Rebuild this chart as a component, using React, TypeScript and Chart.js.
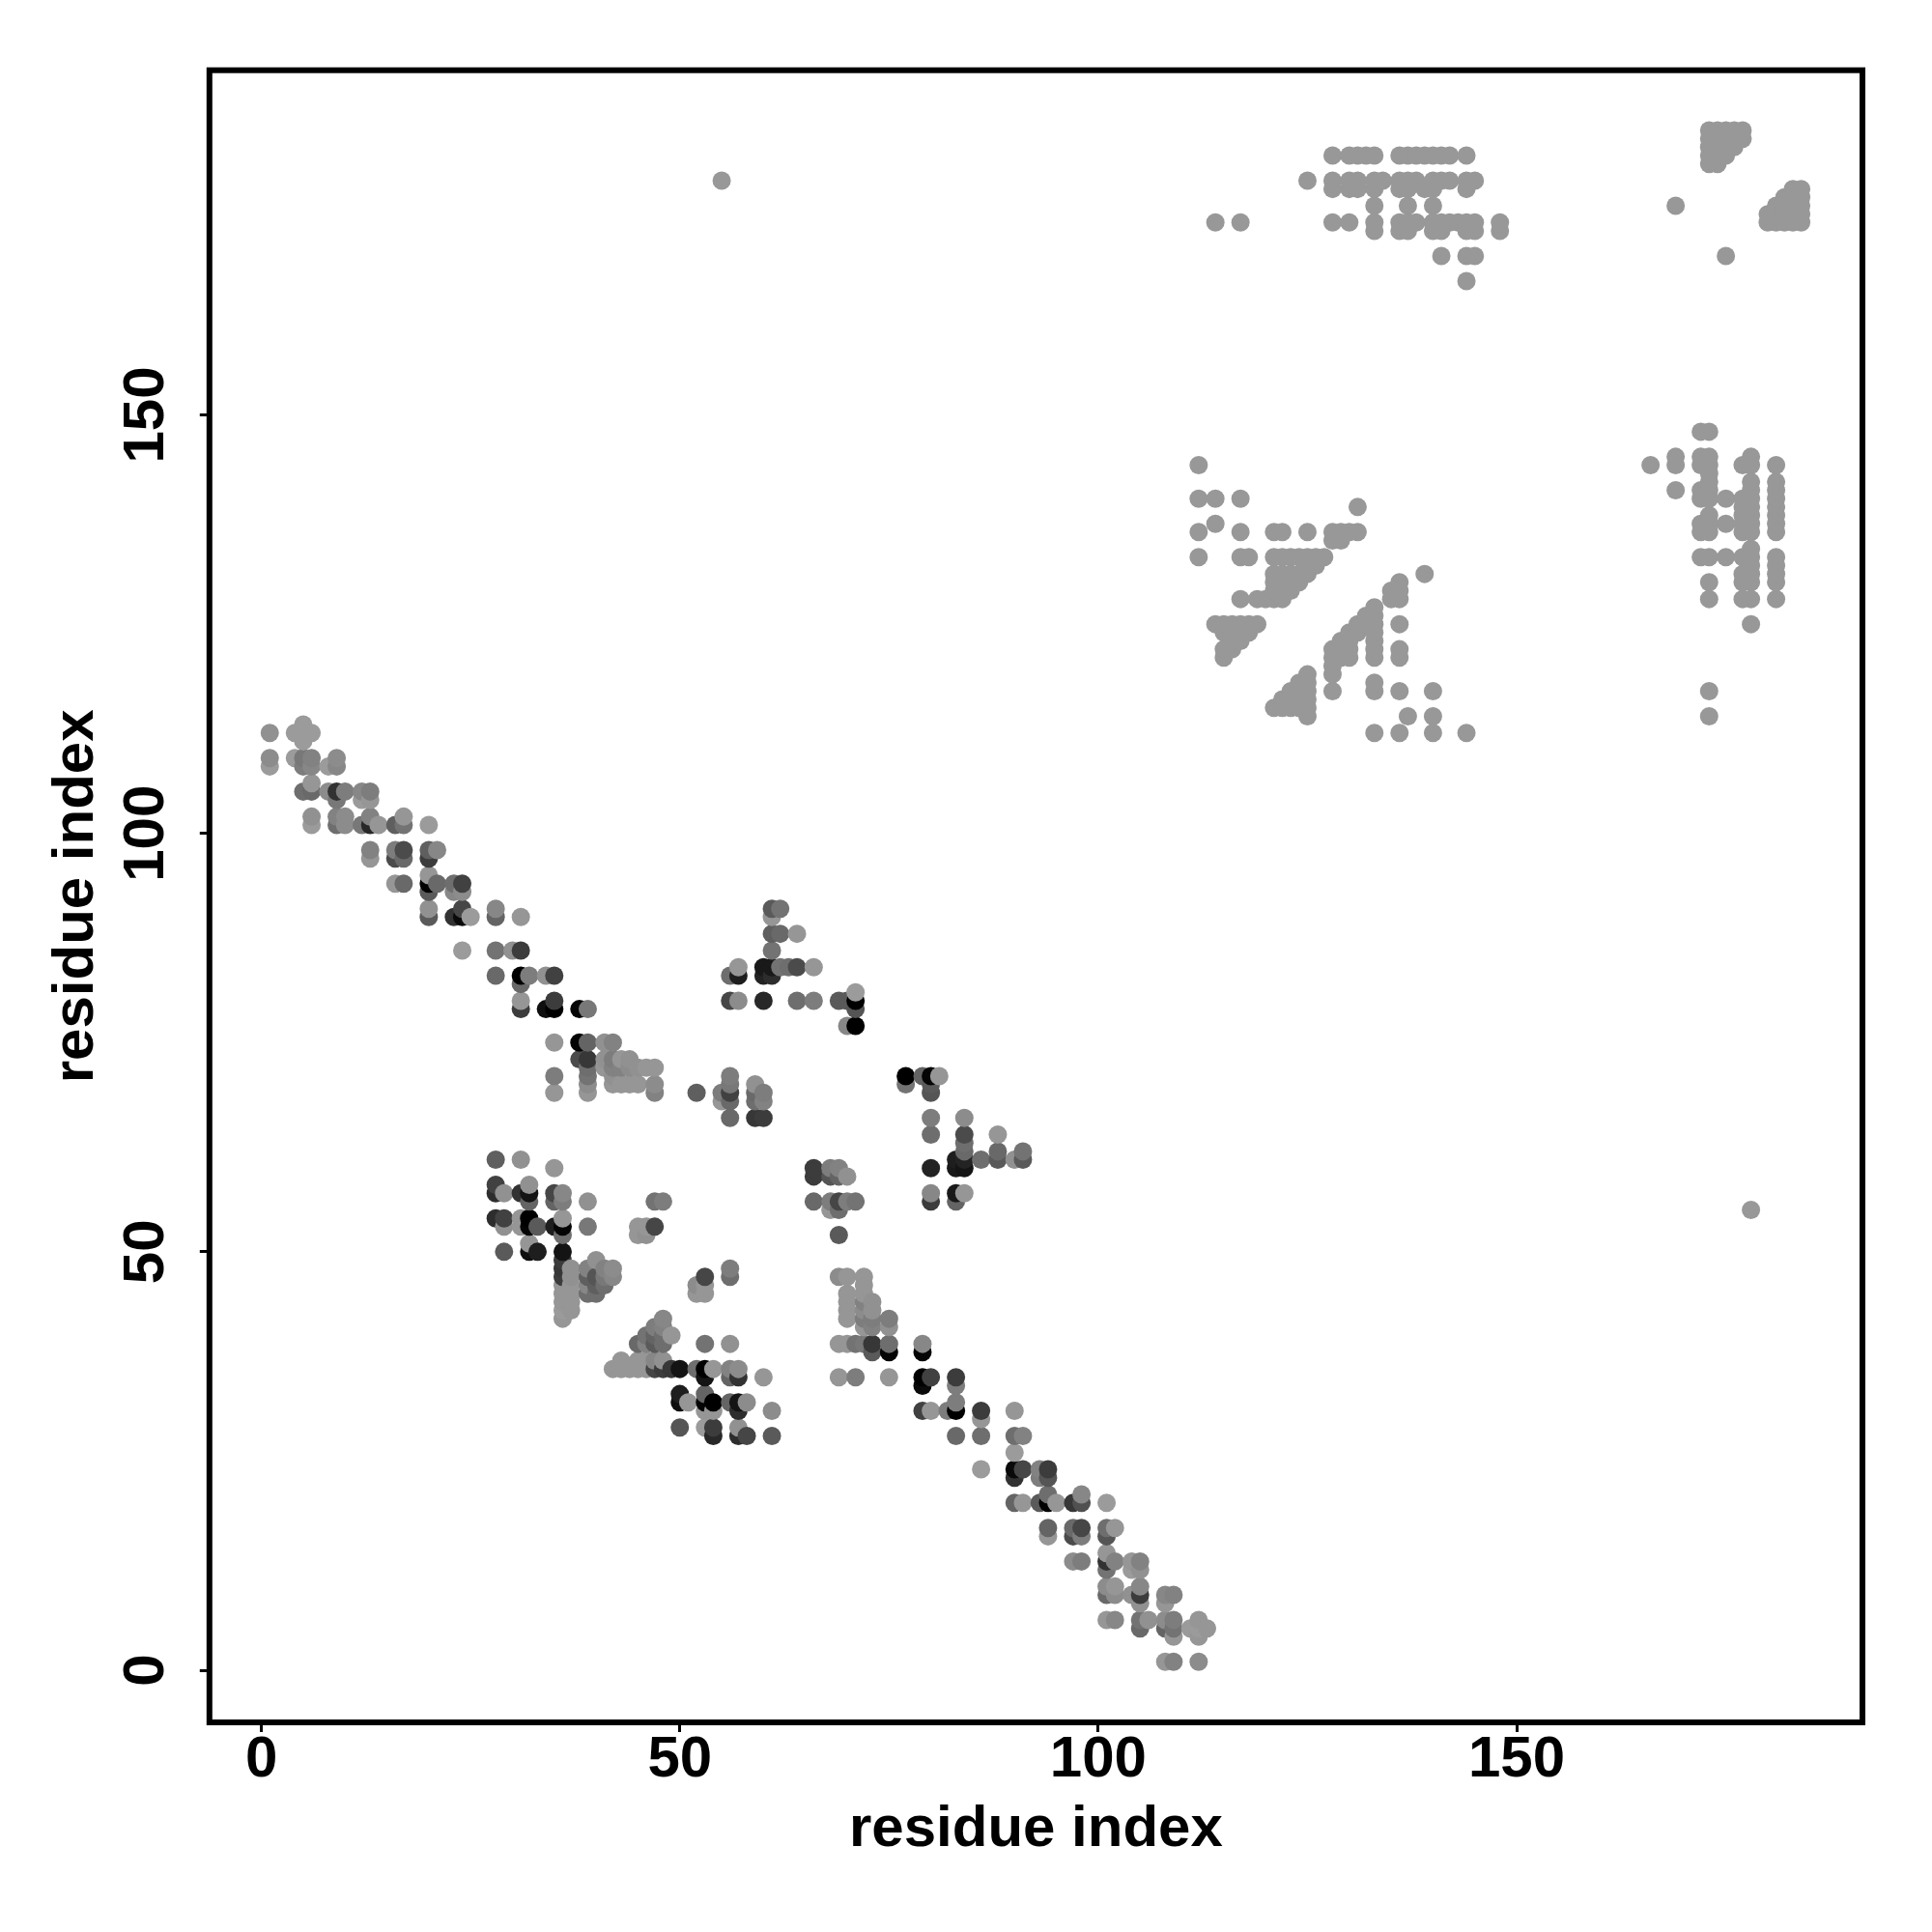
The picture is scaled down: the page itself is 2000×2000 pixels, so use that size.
import React, { useEffect, useRef } from "react";
import { Chart, registerables } from "chart.js";

Chart.register(...registerables);

// Each contact is [residue x, residue y, grey level]
const bandTop: number[][] = [
  [1,112,145],[4,112,155],[5,113,155],[5,112,155],[6,112,155],[5,111,155],
  [1,109,140],[4,109,155],[5,109,120],[6,109,130],[9,109,140],
  [1,108,155],[5,108,125],[6,108,135],[8,108,155],[9,108,135],
  [6,106,150],[5,105,110],[6,105,105],[8,105,140],[9,105,50],[10,105,125],[12,105,135],[13,105,125],
  [9,104,120],[12,104,155],[13,104,150],
  [6,102,145],[9,102,130],[10,102,140],[13,102,130],[17,102,150],
  [6,101,155],[9,101,110],[10,101,140],[12,101,120],[13,101,40],[14,101,150],[16,101,95],[17,101,115],[20,101,155],
  [13,98,130],[16,98,125],[17,98,75],[20,98,95],[21,98,135],
  [13,97,150],[16,97,75],[17,97,105],[20,97,60],
  [20,95,150],[16,94,150],[17,94,105],[20,94,0],[21,94,105],[23,94,110],[24,94,65],
  [20,93,90],[23,93,135],[24,93,140],
  [20,91,145],[24,91,70],[28,91,135],
  [20,90,90],[23,90,50],[24,90,10],[25,90,155],[28,90,100],[31,90,150],
  [24,86,155],[28,86,115],[30,86,145],[31,86,60],
  [28,83,105],[31,83,0],[32,83,125],[34,83,145],[35,83,65],[31,82,105],
  [31,80,150],[35,80,60],[31,79,60],[34,79,15],[35,79,0],[38,79,5],[39,79,120],
  [35,75,150],[38,75,5],[39,75,100],[41,75,145],[42,75,130],
  [38,73,75],[39,73,55],[41,73,145],[42,73,125],[43,73,150],[44,73,145],
  [39,72,110],[41,72,150],[42,72,130],[43,72,130],[44,72,140],[45,72,145],[46,72,150],[47,72,150],
  [35,71,125],[39,71,115],[42,71,145],
  [39,70,140],[42,70,150],[43,70,150],[44,70,150],[45,70,150],[47,70,140],
  [35,69,150],[39,69,150],[47,69,130],
];

const islandLeft: number[][] = [
  [28,61,95],[31,61,145],[35,60,150],[28,58,65],[32,58,145],
  [28,57,45],[29,57,145],[31,57,50],[32,57,20],[35,57,70],[36,57,135],
  [32,56,100],[35,56,100],[36,56,125],[39,56,145],[47,56,115],[48,56,125],
  [28,54,45],[29,54,65],[31,54,150],[32,54,0],[36,54,150],
  [29,53,145],[31,53,150],[32,53,5],[33,53,90],[35,53,30],[36,53,5],[39,53,120],[45,53,150],[46,53,150],[47,53,70],
  [36,52,110],[45,52,150],[46,52,145],[32,51,150],
  [29,50,90],[32,50,15],[33,50,30],[36,50,20],
  [36,49,60],[40,49,145],
  [36,48,55],[37,48,145],[39,48,130],[41,48,130],[42,48,140],[56,48,125],
  [36,47,60],[37,47,145],[39,47,95],[40,47,85],[41,47,120],[42,47,135],[53,47,70],[56,47,110],
  [36,46,150],[37,46,150],[39,46,135],[40,46,95],[41,46,110],[52,46,140],[53,46,150],
  [36,45,150],[37,45,150],[39,45,110],[40,45,110],[52,45,150],[53,45,150],
  [36,44,150],[37,44,150],[36,43,155],[37,43,150],[36,42,150],
];

const islandBottom: number[][] = [
  [48,42,135],[47,41,125],[48,41,130],[46,40,115],[47,40,100],[48,40,110],[49,40,150],
  [45,39,105],[46,39,130],[47,39,90],[48,39,110],[53,39,115],[56,39,145],
  [43,37,150],[45,37,150],[46,37,150],[47,37,135],[48,37,145],
  [42,36,150],[43,36,150],[44,36,150],[45,36,150],[46,36,150],[47,36,70],[48,36,60],[49,36,55],[50,36,20],
  [52,36,110],[53,36,0],[54,36,150],[56,36,130],[57,36,140],
  [53,35,20],[56,35,100],[57,35,50],[60,35,150],
  [50,33,30],[53,33,100],
  [50,32,15],[51,32,150],[53,32,5],[54,32,0],[56,32,100],[57,32,20],[58,32,140],
  [53,31,150],[54,31,150],[57,31,45],[61,31,140],
  [50,29,85],[53,29,155],[54,29,60],[57,29,145],
  [54,28,40],[57,28,45],[58,28,70],[61,28,90],
];

const islandCentre: number[][] = [
  [61,91,90],[62,91,115],[61,90,150],[61,88,95],[62,88,105],[64,88,150],[61,86,115],
  [57,84,150],[60,84,25],[61,84,25],[62,84,115],[63,84,110],[64,84,75],[66,84,150],
  [56,83,110],[57,83,30],[60,83,35],[61,83,45],
  [56,80,70],[57,80,140],[60,80,40],[64,80,110],[66,80,125],[69,80,90],[70,80,90],[71,80,0],[71,81,155],[71,79,85],
  [70,77,135],[71,77,0],
  [52,69,95],[56,71,125],[56,70,120],[56,69,65],[55,69,125],[55,68,150],[56,68,105],[56,66,105],
  [59,70,145],[59,69,105],[59,68,110],[60,69,125],[60,68,130],[59,66,55],[60,66,60],
  [77,71,0],[77,70,115],[79,71,100],[80,71,5],[81,71,150],[80,70,90],[80,69,85],
  [80,66,125],[84,66,140],[80,64,110],[84,64,75],[84,63,110],[84,62,105],
  [83,61,30],[84,61,35],[83,60,25],[84,60,20],[80,60,35],[86,61,110],
  [88,64,150],[88,62,105],[88,61,90],[90,61,145],[91,62,115],[91,61,90],
  [80,57,135],[80,56,60],[83,57,25],[84,57,150],[83,56,100],
  [66,60,60],[68,60,125],[69,60,130],[66,59,60],[68,59,85],[69,59,100],[70,59,145],
  [66,56,105],[68,56,125],[69,56,70],[70,56,125],[71,56,115],[68,55,150],[69,55,110],[69,52,90],
];

const islandRight: number[][] = [
  [69,47,140],[70,47,150],[72,47,150],[72,46,150],[70,45,150],[72,45,150],
  [70,44,150],[72,44,130],[73,44,145],[70,43,150],[72,43,140],[73,43,145],
  [70,42,150],[72,42,125],[73,42,125],[75,42,125],[72,41,150],[73,41,130],[75,41,145],
  [69,39,150],[70,39,150],[71,39,115],[72,39,120],[73,39,55],[75,39,110],[79,39,135],
  [73,38,90],[75,38,5],[79,38,5],
  [69,35,150],[71,35,125],[75,35,150],[79,35,0],[80,35,65],[83,35,60],
  [79,34,10],[83,34,125],[83,32,125],
  [79,31,65],[80,31,150],[82,31,125],[83,31,0],[86,31,60],[90,31,150],
  [86,30,150],[83,28,105],[86,28,110],[90,28,110],[91,28,130],
];

const bandBottom: number[][] = [
  [90,26,155],[86,24,155],[90,24,10],[91,24,70],[93,24,130],[94,24,60],
  [90,23,50],[93,23,125],[94,23,85],[94,21,110],[98,21,135],
  [90,20,100],[91,20,150],[93,20,90],[94,20,0],[95,20,150],[97,20,55],[98,20,80],[101,20,155],
  [94,17,100],[97,17,105],[98,17,70],[101,17,110],[102,17,150],
  [94,16,150],[97,16,75],[98,16,125],[101,16,85],
  [101,14,150],[97,13,140],[98,13,125],[101,13,50],[102,13,130],[104,13,150],[105,13,130],
  [101,12,115],[104,12,155],[105,12,145],
  [101,10,140],[102,10,150],[105,10,135],
  [101,9,105],[102,9,140],[104,9,145],[105,9,60],[108,9,135],[109,9,130],
  [105,8,145],[108,8,150],
  [101,6,150],[102,6,135],[105,6,115],[106,6,145],[108,6,140],[109,6,125],[112,6,150],
  [105,5,105],[108,5,100],[109,5,115],[111,5,155],[112,5,155],[113,5,150],
  [109,4,150],[112,4,150],[108,1,150],[109,1,130],[112,1,140],
];

const pale = 152;

const stripTopX = [
  [181,[128,130,131,132,133,136,137,138,139,140,141,142,144]],
  [178,[125,128,130,131,133,134,136,137,138,140,141,142,144,145]],
  [177,[128,130,131,133,136,137,139,140,144]],
  [175,[133,137,140]],
  [173,[114,117,128,130,133,136,137,138,140,141,142,143,144,145,148]],
  [172,[133,136,137,140,141,144,145,148]],
  [169,[141,144,145]],
  [166,[144]],
  [184,[173,174,175,176,177]],
  [183,[173,174,175,176,177]],
  [182,[173,174,175,176]],
  [181,[173,174,175]],
  [180,[173,174]],
  [177,[183,184]],
  [176,[182,183,184]],
  [175,[169,181,182,183,184]],
  [174,[180,181,182,183,184]],
  [173,[180,181,182,183,184]],
  [169,[175]],
  [178,[55]],
  [55,[178]],
] as [number, number[]][];

const stripMiddleX = [
  [144,[112,166,169,172,173,177,178,181]],
  [140,[112,114,117,172,173,175,177,178,181]],
  [139,[131,177,178,181]],
  [137,[114,172,173,175,177,178,181]],
  [136,[112,117,121,122,125,128,129,130,131,172,173,177,178,181]],
  [135,[128,129]],
  [133,[112,117,118,121,122,123,124,125,126,127,172,173,175,177,178,181]],
  [132,[125,126,178,181]],
  [131,[121,122,123,124,125,139,177,178,181]],
  [130,[121,122,123,124,136,173,177,178,181]],
  [129,[121,122,123,135,136]],
  [128,[117,119,120,121,122,135,136,173,177,178,181]],
  [127,[133]],
  [126,[132,133]],
  [125,[114,115,116,117,118,119,131,132,133,136,178]],
  [124,[115,116,117,118,130,131,133]],
  [123,[116,117,129,130,133]],
  [122,[115,116,128,129,130,133,136]],
  [121,[115,128,129,130,133,136]],
  [120,[128]],
  [119,[125,128]],
  [118,[124,125,133]],
  [117,[123,124,125,128,133,136,140,173]],
  [116,[122,123,124,125]],
  [115,[121,122,123,124,125]],
  [114,[125,137,140,173]],
  [112,[133,136,140,144]],
  [148,[172,173]],
  [145,[169,172,173,178]],
  [143,[173]],
  [142,[173,178,181]],
  [141,[169,172,173,178,181]],
  [138,[173,177,178,181]],
  [134,[178]],
] as [number, number[]][];

const tickValues = [0, 50, 100, 150];
const axisLabel = "residue index";

const contacts = [
  ...bandTop, ...islandLeft, ...islandBottom, ...islandCentre, ...islandRight, ...bandBottom,
  ...[...stripTopX, ...stripMiddleX].flatMap(([y, xs]) => xs.map((x) => [x, y, pale])),
].sort((a, b) => a[0] - b[0] || a[1] - b[1]);

const FONT = "'Liberation Sans', Arial, sans-serif";

const framePlugin = {
  id: "frame",
  afterDraw(chart: any) {
    const { ctx, chartArea: a } = chart;
    ctx.save();
    ctx.strokeStyle = "#000";
    ctx.lineWidth = 6;
    ctx.strokeRect(a.left, a.top, a.right - a.left, a.bottom - a.top);
    ctx.restore();
  },
};

export default function App() {
  const ref = useRef<HTMLCanvasElement>(null);
  useEffect(() => {
    const chart = new Chart(ref.current!, {
      type: "scatter",
      plugins: [framePlugin],
      data: {
        datasets: [
          {
            data: contacts.map(([x, y]) => ({ x, y })),
            pointRadius: 9.5,
            pointHoverRadius: 9.5,
            pointBorderWidth: 0,
            pointBackgroundColor: contacts.map(([, , g]) => `rgb(${g},${g},${g})`),
          },
        ],
      },
      options: {
        animation: false,
        responsive: false,
        devicePixelRatio: 1,
        layout: { padding: { left: 0, top: 72.7, right: 72, bottom: 0 } },
        plugins: { legend: { display: false }, tooltip: { enabled: false } },
        scales: {
          x: {
            type: "linear",
            min: (216.8 - 270.6) / 8.663,
            max: (1928 - 270.6) / 8.663,
            afterBuildTicks: (s: any) => { s.ticks = tickValues.map((value) => ({ value })); },
            afterFit: (s: any) => { s.height = 217; },
            grid: { drawOnChartArea: false, drawTicks: true, tickLength: 10, tickWidth: 3, tickColor: "#000" },
            border: { display: false },
            ticks: { color: "#000", font: { family: FONT, size: 60, weight: "bold" }, padding: -7, maxRotation: 0, minRotation: 0, autoSkip: false },
            title: { display: true, text: axisLabel, color: "#000", font: { family: FONT, size: 60, weight: "bold" }, padding: { top: 0, bottom: 70 } },
          },
          y: {
            type: "linear",
            min: (1729 - 1783) / 8.663,
            max: (1729 - 72.7) / 8.663,
            afterBuildTicks: (s: any) => { s.ticks = tickValues.map((value) => ({ value })); },
            afterFit: (s: any) => { s.width = 216.8; },
            grid: { drawOnChartArea: false, drawTicks: true, tickLength: 10, tickWidth: 3, tickColor: "#000" },
            border: { display: false },
            ticks: { color: "#000", font: { family: FONT, size: 60, weight: "bold" }, padding: 4, crossAlign: "center", minRotation: 90, maxRotation: 90, autoSkip: false },
            title: { display: true, text: axisLabel, color: "#000", font: { family: FONT, size: 60, weight: "bold" }, padding: { top: 43, bottom: 0 } },
          },
        },
      },
    } as any);
    return () => chart.destroy();
  }, []);
  return (
    <div style={{ position: "absolute", left: 0, top: 0, width: 2000, height: 2000, background: "#fff" }}>
      <canvas ref={ref} width={2000} height={2000} style={{ display: "block", width: 2000, height: 2000 }} />
    </div>
  );
}
